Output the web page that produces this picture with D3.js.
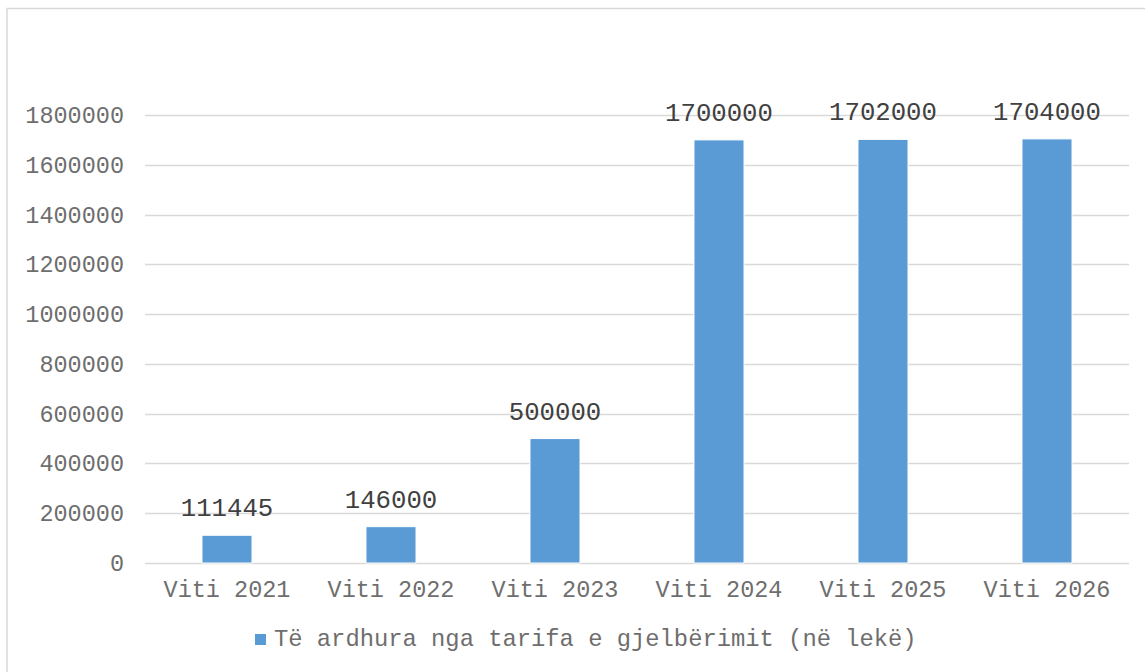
<!DOCTYPE html>
<html>
<head>
<meta charset="utf-8">
<script src="https://cdn.jsdelivr.net/npm/d3@7"></script>
<style>
html, body { margin: 0; padding: 0; background: #fff; }
svg { display: block; }
text { font-family: "Liberation Mono", "Courier New", monospace; }
</style>
</head>
<body>
<svg id="chart" width="1145" height="672"></svg>
<script>
const categories = ["Viti 2021", "Viti 2022", "Viti 2023", "Viti 2024", "Viti 2025", "Viti 2026"];
const values = [111445, 146000, 500000, 1700000, 1702000, 1704000];
const yTicks = [0, 200000, 400000, 600000, 800000, 1000000, 1200000, 1400000, 1600000, 1800000];
const seriesName = "Të ardhura nga tarifa e gjelbërimit (në lekë)";

(function () {
const svg = d3.select("#chart");
const mLeft = 145, mRight = 1129, mTop = 115, mBottom = 563;

svg.append("rect").attr("x", 7).attr("y", 8.5).attr("width", 1160).attr("height", 700)
  .attr("fill", "none").attr("stroke", "#D9D9D9").attr("stroke-width", 1.5);

const x = d3.scaleBand().domain(categories).range([mLeft, mRight]).paddingInner(0.695).paddingOuter(0.3475);
const y = d3.scaleLinear().domain([0, 1800000]).range([mBottom, mTop]);

// gridlines
svg.append("g").selectAll("line").data(yTicks).join("line")
  .attr("x1", mLeft).attr("x2", mRight)
  .attr("y1", d => Math.round(y(d)) + 0.5).attr("y2", d => Math.round(y(d)) + 0.5)
  .attr("stroke", "#D9D9D9").attr("stroke-width", 1.5);

// y axis labels
const yAxis = d3.axisLeft(y).tickValues(yTicks).tickSize(0).tickPadding(0).tickFormat(d3.format("d"));
const gy = svg.append("g").attr("transform", `translate(124,0)`).call(yAxis);
gy.select(".domain").remove();
gy.selectAll("text").attr("fill", "#6E6E6E").style("font-size", "23.5px")
  .style("font-family", '"Liberation Mono", "Courier New", monospace');

// bars
svg.append("g").selectAll("rect").data(values).join("rect")
  .attr("x", (d, i) => x(categories[i]))
  .attr("width", x.bandwidth())
  .attr("y", d => y(d))
  .attr("height", d => y(0) - y(d))
  .attr("fill", "#5B9BD5")
  .attr("stroke", "#fff").attr("stroke-width", 1);

// data labels
svg.append("g").selectAll("text").data(values).join("text")
  .attr("x", (d, i) => x(categories[i]) + x.bandwidth() / 2)
  .attr("y", d => y(d) - 19)
  .attr("text-anchor", "middle")
  .attr("fill", "#404040")
  .style("font-size", "25.7px")
  .text(d => d);

// x axis labels
const xAxis = d3.axisBottom(x).tickSize(0).tickPadding(0);
const gx = svg.append("g").attr("transform", `translate(0,${mBottom})`).call(xAxis);
gx.select(".domain").remove();
gx.selectAll("text").attr("fill", "#6E6E6E").attr("dy", 0).attr("y", 34).style("font-size", "23.5px")
  .style("font-family", '"Liberation Mono", "Courier New", monospace');

// legend
const lg = svg.append("g");
lg.append("rect").attr("x", 255).attr("y", 634).attr("width", 11).attr("height", 11).attr("fill", "#5B9BD5");
lg.append("text").attr("x", 274).attr("y", 646).attr("fill", "#6E6E6E").style("font-size", "23.8px").text(seriesName);
})();
</script>
</body>
</html>
